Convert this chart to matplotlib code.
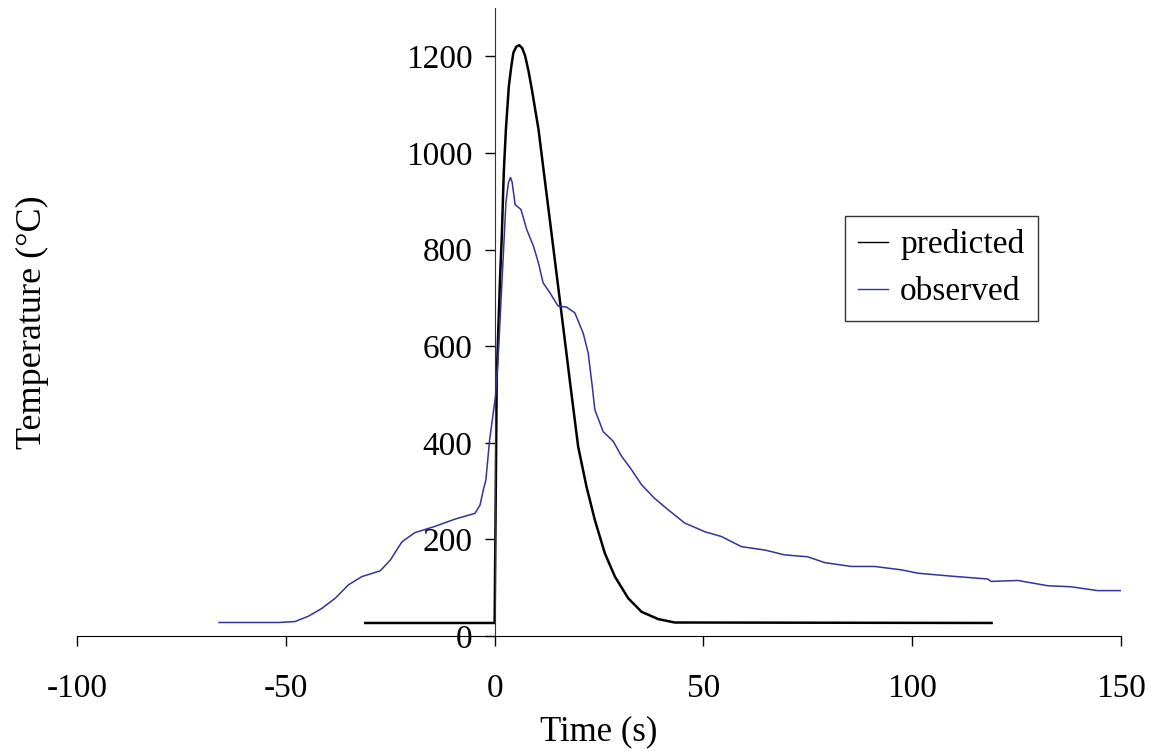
import matplotlib
matplotlib.use("Agg")
import matplotlib.pyplot as plt

plt.rcParams['font.family'] = ['Liberation Serif', 'DejaVu Serif']
plt.rcParams['axes.unicode_minus'] = False

# predicted temperature (black)
pred_t = [-31.0, 0.0, 0.3, 0.5, 0.9, 1.3, 1.7, 2.2, 2.7, 3.4, 4.0, 4.5, 5.2, 5.9, 6.6,
          7.3, 8.1, 8.9, 10.5, 12.0, 13.6, 15.2, 16.8, 18.2, 20.0, 22.0, 24.0, 26.4,
          28.8, 32.0, 35.2, 39.2, 43.1, 119.0]
pred_T = [27, 27, 330, 535, 640, 742, 825, 962, 1049, 1138, 1180, 1208, 1220, 1223, 1217,
          1201, 1170, 1132, 1049, 945, 835, 724, 613, 515, 392, 309, 240, 171,
          123, 78, 50, 35, 28, 27]

# observed temperature (blue)
obs_t = [-66.0, -51.7, -47.8, -44.6, -41.4, -38.2, -35.0, -31.8, -27.4, -25.0, -22.2,
         -19.1, -14.3, -9.5, -4.7, -3.5, -2.7, -2.1, -1.2, 0.2, 0.9, 1.5, 2.1, 2.7,
         3.3, 3.8, 4.2, 4.9, 6.3, 7.7, 9.3, 10.5, 11.6, 13.2, 15.2, 17.2, 19.2, 21.2,
         22.4, 23.4, 24.0, 26.0, 28.4, 30.4, 32.8, 35.2, 38.3, 41.6, 45.5, 50.3, 54.3,
         59.1, 64.7, 69.4, 75.0, 79.0, 83.0, 85.4, 91.0, 97.4, 101.4, 109.3, 118.1,
         118.9, 125.3, 132.5, 138.0, 144.4, 150.0]
obs_T = [28, 28, 30, 41, 57, 78, 106, 123, 135, 157, 195,
         214, 227, 242, 254, 271, 303, 323, 406, 496, 586, 690, 793, 897,
         939, 949, 939, 893, 883, 841, 807, 772, 731, 711, 683, 681, 669, 627,
         586, 515, 468, 423, 403, 372, 344, 313, 285, 261, 234, 216, 206,
         185, 178, 168, 164, 152, 147, 144, 144, 137, 130, 124, 118,
         113, 115, 104, 102, 94, 94]

fig = plt.figure(figsize=(11.55, 7.56), dpi=100)
ax = fig.add_axes([0.0667, 0.1587, 0.9039, 0.8307])

ax.plot(pred_t, pred_T, color='black', lw=1.8, label='predicted')
ax.plot(obs_t, obs_T, color='#333399', lw=1.1, label='observed')

ax.set_xlim(-100, 150)
ax.set_ylim(0, 1300)
ax.set_xticks([-100, -50, 0, 50, 100, 150])
ax.set_yticks([0, 200, 400, 600, 800, 1000, 1200])

ax.spines['left'].set_position(('data', 0))
ax.spines['bottom'].set_position(('data', 0))
ax.spines['top'].set_visible(False)
ax.spines['right'].set_visible(False)
ax.spines['left'].set_color('#333333')

ax.tick_params(axis='both', direction='out', length=7, width=1, labelsize=24)
ax.tick_params(axis='x', pad=20)
ax.tick_params(axis='y', pad=9)

ax.set_xlabel('Time (s)', fontsize=25, labelpad=8)
ax.set_ylabel('Temperature (°C)', fontsize=26)
ax.yaxis.set_label_coords(-0.027, 0.5)

leg = ax.legend(loc='upper left', bbox_to_anchor=(0.7356, 0.669), fontsize=24,
                frameon=True, fancybox=False, edgecolor='black', handlelength=0.9,
                handletextpad=0.35, borderpad=0.4, labelspacing=0.5, borderaxespad=0)
leg.get_frame().set_linewidth(1.0)
for h in leg.get_lines():
    h.set_linewidth(1.0)

fig.savefig('out.png', dpi=100)
